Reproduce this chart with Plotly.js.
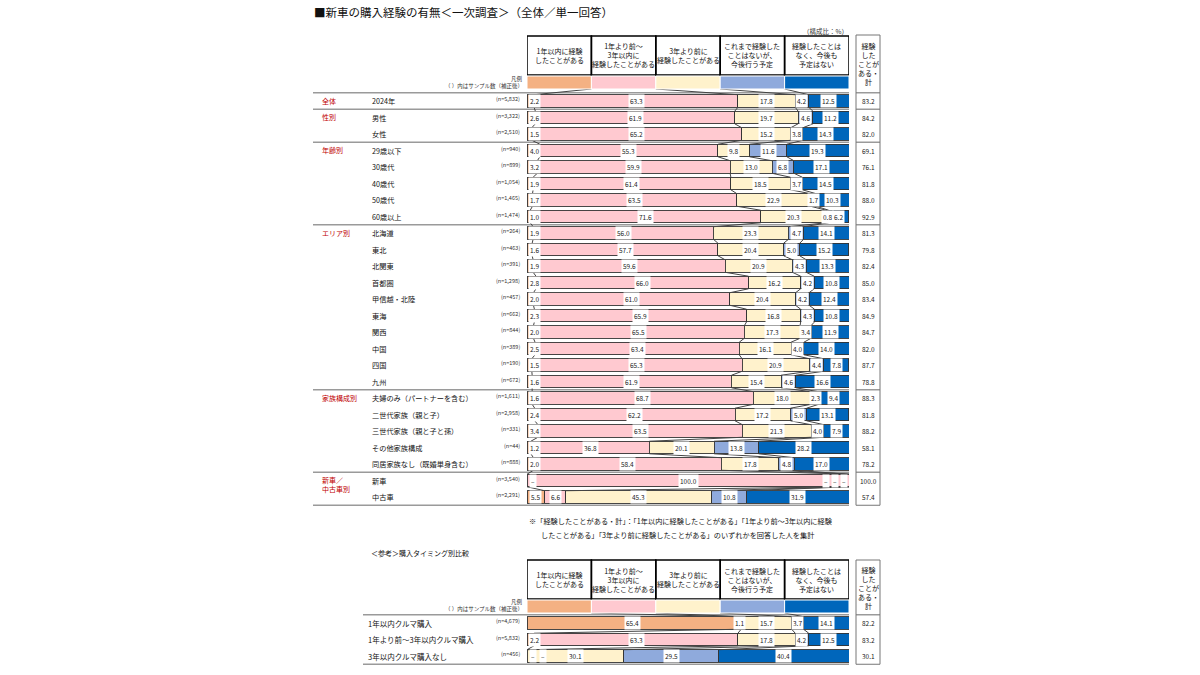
<!DOCTYPE html>
<html><head><meta charset="utf-8">
<script src="https://cdn.plot.ly/plotly-3.0.1.min.js"></script>
<style>html,body{margin:0;padding:0;background:#fff}</style>
</head><body><div id="chart" style="width:1200px;height:675px"></div>
<script>
// ---------- DATA ----------
const seriesNames = ["1年以内に経験<br>したことがある","1年より前～<br>3年以内に<br>経験したことがある","3年より前に<br>経験したことがある","これまで経験した<br>ことはないが、<br>今後行う予定","経験したことは<br>なく、今後も<br>予定はない"];
const totalHeader = "経験<br>した<br>ことが<br>ある・<br>計";
const groupNames = ["全体","性別","年齢別","エリア別","家族構成別","新車／<br>中古車別"];
const groupStart = [0,1,3,8,18,23];
const rowLabels = ["2024年","男性","女性","29歳以下","30歳代","40歳代","50歳代","60歳以上","北海道","東北","北関東","首都圏","甲信越・北陸","東海","関西","中国","四国","九州","夫婦のみ（パートナーを含む）","二世代家族（親と子）","三世代家族（親と子と孫）","その他家族構成","同居家族なし（既婚単身含む）","新車","中古車"];
const sampleN = ["5,832","3,322","2,510","940","899","1,054","1,465","1,474","264","463","391","1,298","457","662","844","389","190","672","1,611","2,958","331","44","888","3,540","2,291"];
const within1y   = [2.2,2.6,1.5,4.0,3.2,1.9,1.7,1.0,1.9,1.6,1.9,2.8,2.0,2.3,2.0,2.5,1.5,1.6,1.6,2.4,3.4,1.2,2.0,null,5.5];
const from1to3y  = [63.3,61.9,65.2,55.3,59.9,61.4,63.5,71.6,56.0,57.7,59.6,66.0,61.0,65.9,65.5,63.4,65.3,61.9,68.7,62.2,63.5,36.8,58.4,100.0,6.6];
const over3y     = [17.8,19.7,15.2,9.8,13.0,18.5,22.9,20.3,23.3,20.4,20.9,16.2,20.4,16.8,17.3,16.1,20.9,15.4,18.0,17.2,21.3,20.1,17.8,null,45.3];
const planned    = [4.2,4.6,3.8,11.6,6.8,3.7,1.7,0.8,4.7,5.0,4.3,4.2,4.2,4.3,3.4,4.0,4.4,4.6,2.3,5.0,4.0,13.8,4.8,null,10.8];
const noPlan     = [12.5,11.2,14.3,19.3,17.1,14.5,10.3,6.2,14.1,15.2,13.3,10.8,12.4,10.8,11.9,14.0,7.8,16.6,9.4,13.1,7.9,28.2,17.0,null,31.9];
const totals     = [83.2,84.2,82.0,69.1,76.1,81.8,88.0,92.9,81.3,79.8,82.4,85.0,83.4,84.9,84.7,82.0,87.7,78.8,88.3,81.8,88.2,58.1,78.2,100.0,57.4];

const refTitle = "＜参考＞購入タイミング別比較";
const refLabels = ["1年以内クルマ購入","1年より前～3年以内クルマ購入","3年以内クルマ購入なし"];
const refN = ["4,679","5,832","456"];
const refWithin1y  = [65.4,2.2,null];
const refFrom1to3y = [1.1,63.3,null];
const refOver3y    = [15.7,17.8,30.1];
const refPlanned   = [3.7,4.2,29.5];
const refNoPlan    = [14.1,12.5,40.4];
const refTotals    = [82.2,83.2,30.1];

const titleText = "■新車の購入経験の有無＜一次調査＞（全体／単一回答）";
const unitText = "（構成比：%）";
const legendNote1 = "凡例";
const legendNote2 = "（ ）内はサンプル数（補正後）";
const footnote1 = "※「経験したことがある・計」：「1年以内に経験したことがある」「1年より前～3年以内に経験";
const footnote2 = "したことがある」「3年より前に経験したことがある」のいずれかを回答した人を集計";

// ---------- LAYOUT HELPERS ----------
const W=1200,H=675;
const px=x=>x/W, py=y=>1-y/H;
const FONT='"Noto Sans CJK JP","Noto Sans",sans-serif';
const colors=['#F4B183','#FFC9D0','#FFF2CC','#8FAADC','#0066BB'];
const BW=0.76, STEP=16.5;
const M0=101, mainRange=[24.5,-2];
const R0=623, refRange=[2.5,-1.5];
const X0=527, X1=849;
const mainSeries=[within1y,from1to3y,over3y,planned,noPlan];
const refSeries=[refWithin1y,refFrom1to3y,refOver3y,refPlanned,refNoPlan];

const traces=[], ann=[], shapes=[];
function A(o){ ann.push(Object.assign({showarrow:false,xanchor:'center',yanchor:'middle'},o)); }

function addBars(series, xa, ya){
  series.forEach((arr,k)=>{
    traces.push({type:'bar',orientation:'h',x:arr.map(v=>v||0),y:arr.map((_,i)=>i),
      xaxis:xa,yaxis:ya,width:BW,marker:{color:colors[k],line:{color:'#333',width:0.9}},
      hoverinfo:'skip',showlegend:false});
  });
}
function addConnectors(series, xa, ya, swatchY){
  const n=series[0].length, cums=[];
  for(let i=0;i<n;i++){let c=0;const row=[];for(let k=0;k<5;k++){c+=series[k][i]||0;row.push(c);}cums.push(row);}
  const xs=[],ys=[];
  for(let k=0;k<4;k++){xs.push((k+1)*20,cums[0][k],null);ys.push(swatchY,-BW/2,null);}
  for(let i=0;i<n-1;i++)for(let k=0;k<4;k++){xs.push(cums[i][k],cums[i+1][k],null);ys.push(i+BW/2,i+1-BW/2,null);}
  traces.push({type:'scatter',mode:'lines',x:xs,y:ys,xaxis:xa,yaxis:ya,
    line:{color:'#444',width:1},hoverinfo:'skip',showlegend:false,cliponaxis:false});
}
function addValueLabels(series, xa, ya){
  const n=series[0].length;
  for(let i=0;i<n;i++){
    const vals=series.map(s=>s[i]);
    const nz=vals.map(v=>!!v);
    const first=nz.indexOf(true), last=nz.lastIndexOf(true);
    let c=0, lc=0;
    vals.forEach((v,k)=>{
      const base={xref:xa,yref:ya,y:i,font:{family:FONT,size:6.5,color:'#222'},borderpad:1,bgcolor:'#fff'};
      if(!v){
        if(k<first){A({...base,x:0,xanchor:'left',xshift:2+lc*10,text:'–'});lc++;}
        else if(k>last){A({...base,x:100,xanchor:'right',xshift:-1-(4-k)*9,text:'–'});}
        return;
      }
      const mid=c+v/2; c+=v;
      const a={...base,text:v.toFixed(1)};
      if(k===0&&v<5){a.x=0;a.xanchor='left';a.xshift=1;}else{a.x=mid;a.xanchor='center';}
      A(a);
    });
  }
}
function addHeader(xa, top, bot, swTop, swBot, boxTop, boxBot, notesY){
  for(let k=0;k<5;k++){
    shapes.push({type:'rect',xref:xa,yref:'paper',x0:k*20,x1:k*20+20,y0:py(bot),y1:py(top),line:{color:'#000',width:1.5},fillcolor:'rgba(0,0,0,0)'});
    shapes.push({type:'rect',xref:xa,yref:'paper',x0:k*20,x1:k*20+20,y0:py(swBot),y1:py(swTop),line:{color:'#fff',width:1},fillcolor:colors[k]});
    A({xref:xa,yref:'paper',x:k*20+10,y:py((top+bot)/2),text:seriesNames[k],
      font:{family:FONT,size:7,color:'#111'},align:'center'});
  }
  shapes.push({type:'rect',xref:'paper',yref:'paper',x0:px(856),x1:px(880),y0:py(boxBot),y1:py(boxTop),line:{color:'#777',width:1}});
  A({xref:'paper',yref:'paper',x:px(868),y:py((boxTop+swBot+3)/2),text:totalHeader,font:{family:FONT,size:7,color:'#111'},align:'center'});
  A({xref:'paper',yref:'paper',x:px(525),y:py(notesY),xanchor:'right',text:legendNote1,font:{family:FONT,size:5.5,color:'#333'}});
  A({xref:'paper',yref:'paper',x:px(525),y:py(notesY+7),xanchor:'right',text:legendNote2,font:{family:FONT,size:5.5,color:'#333'}});
}
function hline(y,x0,x1){
  shapes.push({type:'line',xref:'paper',yref:'paper',x0:px(x0),x1:px(x1),y0:py(y),y1:py(y),line:{color:'#9a9a9a',width:1.5},layer:'below'});
}

// ---------- MAIN SECTION ----------
addBars(mainSeries,'x','y');
addConnectors(mainSeries,'x','y',(89-M0)/STEP);
addValueLabels(mainSeries,'x','y');
addHeader('x',36,75,76,89,35,M0+24.5*STEP,79);
rowLabels.forEach((lab,i)=>{
  A({xref:'paper',yref:'y',x:px(370),y:i,xanchor:'left',text:lab,font:{family:FONT,size:7.2,color:'#111'}});
  A({xref:'paper',yref:'y',x:px(522),y:i,xanchor:'right',yshift:2,text:'(n='+sampleN[i]+')',font:{family:FONT,size:5.5,color:'#333'}});
  A({xref:'paper',yref:'y',x:px(868),y:i,text:totals[i].toFixed(1),font:{family:FONT,size:6.5,color:'#222'}});
});
groupNames.forEach((g,j)=>{
  A({xref:'paper',yref:'y',x:px(320),y:groupStart[j]-0.45,xanchor:'left',yanchor:'top',text:g,align:'left',font:{family:FONT,size:7,color:'#C00000'}});
  const yy=M0+(groupStart[j]-0.5)*STEP;
  hline(yy,313,X1); hline(yy,856,880);
});
hline(M0+24.5*STEP,313,X1);

// ---------- REFERENCE SECTION ----------
addBars(refSeries,'x2','y2');
addConnectors(refSeries,'x2','y2',(613-R0)/STEP);
addValueLabels(refSeries,'x2','y2');
addHeader('x2',560,599,600,613,560,R0+2.5*STEP,602);
refLabels.forEach((lab,i)=>{
  A({xref:'paper',yref:'y2',x:px(366),y:i,xanchor:'left',text:lab,font:{family:FONT,size:7.5,color:'#111'}});
  A({xref:'paper',yref:'y2',x:px(522),y:i,xanchor:'right',yshift:2,text:'(n='+refN[i]+')',font:{family:FONT,size:5.5,color:'#333'}});
  A({xref:'paper',yref:'y2',x:px(868),y:i,text:refTotals[i].toFixed(1),font:{family:FONT,size:6.5,color:'#222'}});
});
hline(R0-0.5*STEP,363,X1); hline(R0-0.5*STEP,856,880);
hline(R0+2.5*STEP,363,X1);

// ---------- TEXTS ----------
A({xref:'paper',yref:'paper',x:px(312),y:py(12),xanchor:'left',text:titleText,font:{family:FONT,size:11.5,color:'#111'}});
A({xref:'paper',yref:'paper',x:px(825),y:py(31),text:unitText,font:{family:FONT,size:6.5,color:'#333'}});
A({xref:'paper',yref:'paper',x:px(527),y:py(521),xanchor:'left',text:footnote1,font:{family:FONT,size:7.2,color:'#111'}});
A({xref:'paper',yref:'paper',x:px(539),y:py(535),xanchor:'left',text:footnote2,font:{family:FONT,size:7.2,color:'#111'}});
A({xref:'paper',yref:'paper',x:px(369),y:py(553),xanchor:'left',text:refTitle,font:{family:FONT,size:7,color:'#111'}});

const axX={range:[0,100],visible:false,fixedrange:true};
const layout={
  width:W,height:H,margin:{l:0,r:0,t:0,b:0},paper_bgcolor:'#fff',plot_bgcolor:'rgba(0,0,0,0)',
  barmode:'stack',bargap:0,showlegend:false,
  xaxis:{...axX,domain:[px(X0),px(X1)],anchor:'y'},
  yaxis:{range:mainRange,visible:false,domain:[py(M0+mainRange[0]*STEP),py(M0+mainRange[1]*STEP)],anchor:'x'},
  xaxis2:{...axX,domain:[px(X0),px(X1)],anchor:'y2'},
  yaxis2:{range:refRange,visible:false,domain:[py(R0+refRange[0]*STEP),py(R0+refRange[1]*STEP)],anchor:'x2'},
  annotations:ann,shapes:shapes,font:{family:FONT}
};
Plotly.newPlot('chart',traces,layout,{staticPlot:true,displayModeBar:false});
</script></body></html>
